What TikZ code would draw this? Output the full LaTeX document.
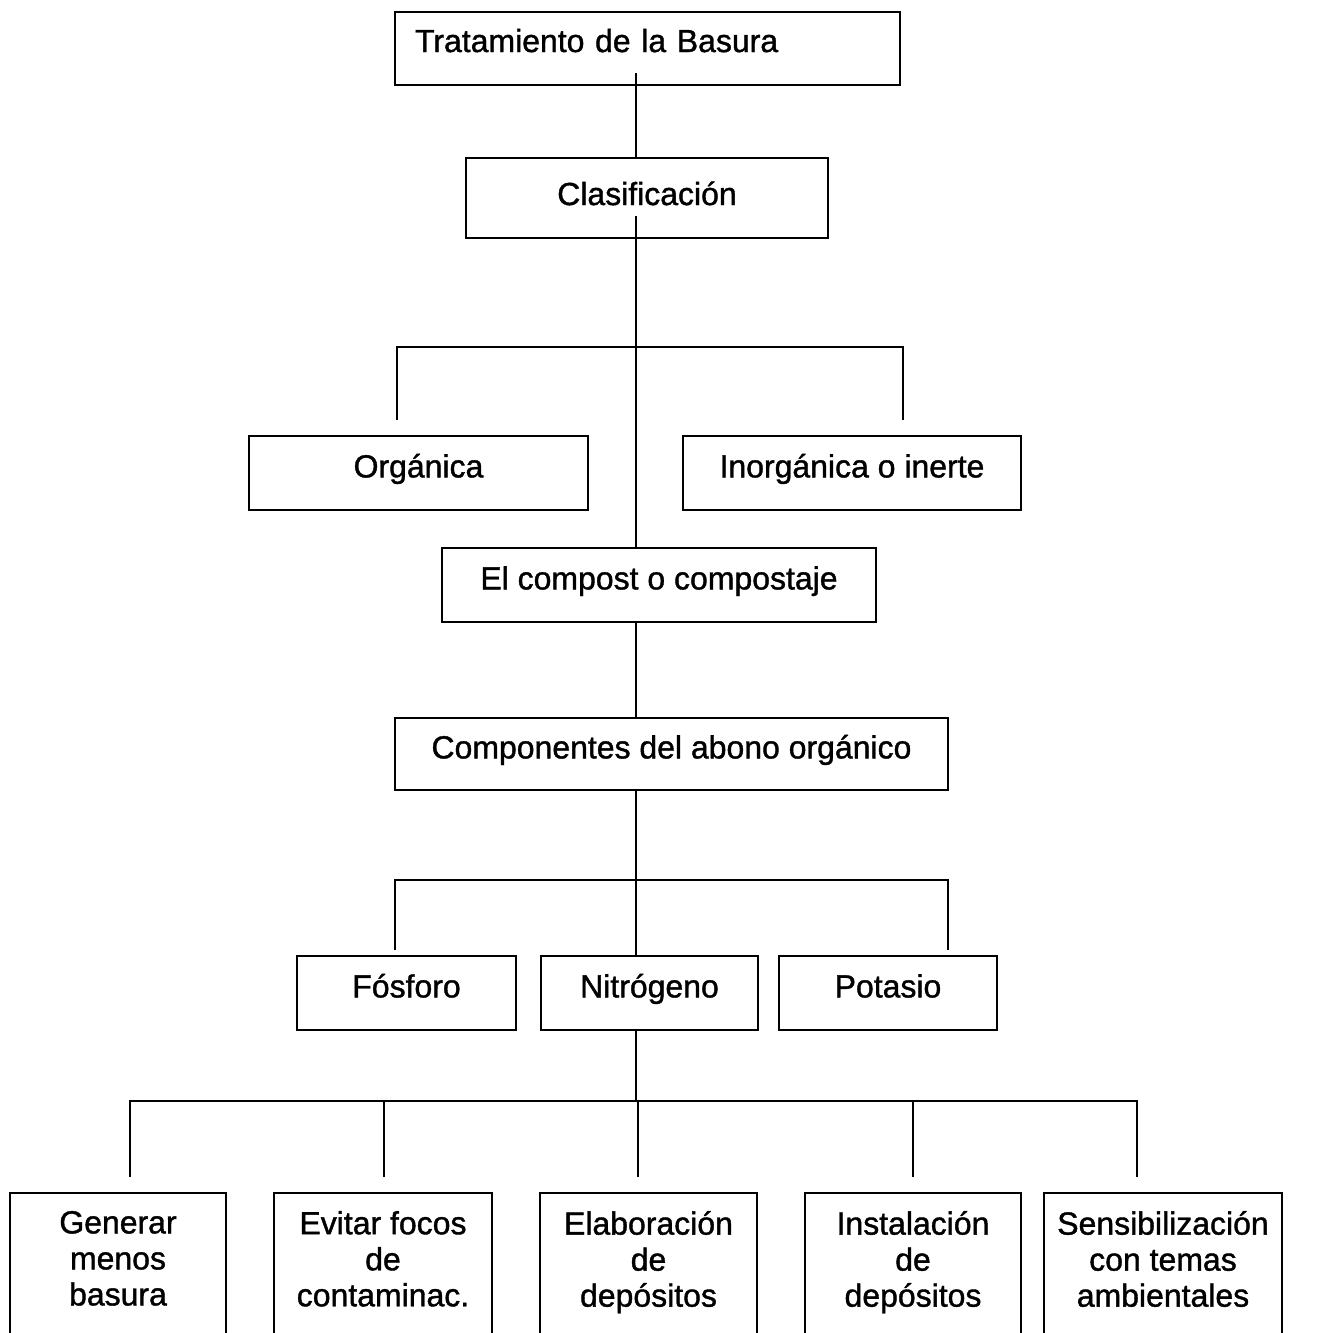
\documentclass[tikz,border=0pt]{standalone}
\usepackage{fontspec}
\setmainfont{Liberation Sans}[FakeBold=1.2]
\usepackage{tikz}
\usetikzlibrary{calc}

\begin{document}
\begin{tikzpicture}[
    x=0.02cm, y=-0.02cm,
    box/.style={rectangle, draw, line width=1.2pt, minimum height=1.48cm, font=\fontsize{18.2pt}{20.5pt}\selectfont, text height=0.75em, text depth=0.25em, fill=white},
    leaf/.style={box, anchor=north, align=center, inner ysep=0.36cm, text height=, text depth=2.4cm},
    link/.style={line width=1.2pt}
]
\useasboundingbox (0,0) rectangle (1317,1333);
\clip (0,0) rectangle (1317,1333);

% Flow
\node[box, minimum width=10.1cm, minimum height=1.46cm, text width=9.3cm, inner xsep=0.4cm, align=left, text height=0.7em, text depth=0.3em] (basura) at (647.5,48.5) {Tratamiento de la Basura};
\node[box, minimum width=7.24cm, minimum height=1.6cm, text height=0.9em, text depth=0.1em] (clasif) at (647,198) {Clasificación};
\node[box, minimum width=6.78cm] (organica) at (418.5,473) {Orgánica};
\node[box, minimum width=6.76cm] (inorganica) at (852,473) {Inorgánica o inerte};
\node[box, minimum width=8.68cm] (compost) at (659,585) {El compost o compostaje};
\node[box, minimum width=11.06cm, minimum height=1.44cm] (abono) at (671.5,754) {Componentes del abono orgánico};
\node[box, minimum width=4.38cm] (fosforo) at (406.5,993) {Fósforo};
\node[box, minimum width=4.34cm] (nitrogeno) at (649.5,993) {Nitrógeno};
\node[box, minimum width=4.36cm] (potasio) at (888,993) {Potasio};

% Actions
\node[leaf, minimum width=4.32cm] (menos) at (118,1192) {Generar\\menos\\basura};
\node[leaf, minimum width=4.36cm] (focos) at (383,1192) {Evitar focos\\de\\contaminac.};
\node[leaf, minimum width=4.34cm] (elabora) at (648.5,1192) {Elaboración\\de\\depósitos};
\node[leaf, minimum width=4.32cm] (instala) at (913,1192) {Instalación\\de\\depósitos};
\node[leaf, minimum width=4.76cm] (sensib) at (1163,1192) {Sensibilización\\con temas\\ambientales};

% Lines
\coordinate (trunk) at (636,0);
\coordinate (split1) at (636,347);
\coordinate (split2) at (636,880);
\coordinate (split3) at (636,1101);
\coordinate (orgtip) at (397,420);
\coordinate (inorgtip) at (903,420);
\coordinate (fostip) at (395,950);
\coordinate (pottip) at (948,950);
\foreach \x [count=\i] in {130,384,638,913,1137}
    \coordinate (tip\i) at (\x,1177);

\draw[link] ($(basura.south -| trunk)+(0,-13)$) -- (clasif.north -| trunk);
\draw[link] ($(clasif.south -| trunk)+(0,-23)$) -- (compost.north -| trunk);
\draw[link] (orgtip) |- (split1) -| (inorgtip);
\draw[link] (compost.south -| trunk) -- (abono.north -| trunk);
\draw[link] (abono.south -| trunk) -- (nitrogeno.north -| trunk);
\draw[link] (fostip) |- (split2) -| (pottip);
\draw[link] (nitrogeno.south -| trunk) -- (split3);
\draw[link] (tip1) |- (split3) -| (tip5);
\foreach \i in {2,3,4}
    \draw[link] (tip\i) -- (tip\i |- split3);

\end{tikzpicture}
\end{document}
